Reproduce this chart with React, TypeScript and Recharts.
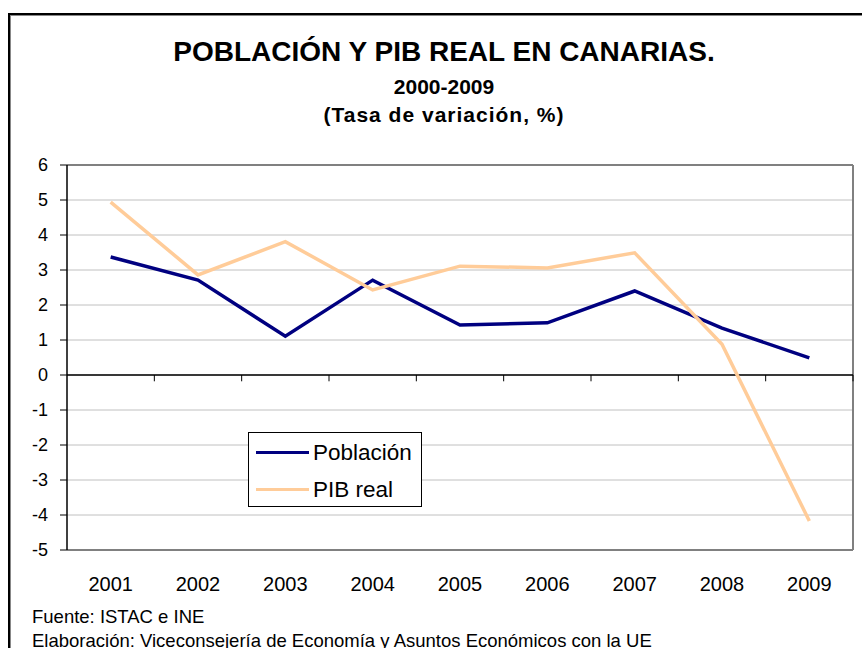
import React from 'react';
import { LineChart, Line, XAxis, YAxis, CartesianGrid, ReferenceLine, Legend } from 'recharts';

const years = ['2001', '2002', '2003', '2004', '2005', '2006', '2007', '2008', '2009'];
const poblacion = [3.37, 2.71, 1.11, 2.71, 1.43, 1.49, 2.4, 1.34, 0.49];
const pibReal = [4.94, 2.86, 3.81, 2.43, 3.11, 3.06, 3.49, 0.88, -4.17];
const seriesNames = ['Población', 'PIB real'];
const yTicks = [-5, -4, -3, -2, -1, 0, 1, 2, 3, 4, 5, 6];
const boundaries = [1, 2, 3, 4, 5, 6, 7, 8, 9];

const data = years.map((year, i) => ({ year, poblacion: poblacion[i], pib: pibReal[i], idx: i + 0.5 }));

const font = 'Arial, "Liberation Sans", sans-serif';

function LegendBox({ payload }: any) {
  const items = [...(payload || [])].sort((a: any, b: any) => seriesNames.indexOf(a.value) - seriesNames.indexOf(b.value));
  return (
    <div style={{ border: '1px solid #000', background: '#fff', width: 174, height: 75, boxSizing: 'border-box', fontFamily: font, fontSize: 22.5, color: '#000', paddingTop: 1 }}>
      {items.map((p: any) => (
        <div key={p.value} style={{ display: 'flex', alignItems: 'center', height: 37 }}>
          <div style={{ width: 53, height: 3, background: p.color, marginLeft: 7, marginRight: 4 }} />
          <span style={{ lineHeight: '26px' }}>{p.value}</span>
        </div>
      ))}
    </div>
  );
}

export default function App() {
  return (
    <div style={{ position: 'absolute', left: 0, top: 0, width: 862, height: 648, overflow: 'hidden', background: '#fff', fontFamily: font }}>
      <div style={{ position: 'absolute', left: 8, top: 13, width: 900, height: 700, borderLeft: '2px solid #000', borderTop: '2px solid #000', boxShadow: '1px 1px 0 #888 inset' }} />
      <div style={{ position: 'absolute', left: 0, width: 888, top: 36, textAlign: 'center', fontSize: 28, fontWeight: 'bold' }}>POBLACIÓN Y PIB REAL EN CANARIAS.</div>
      <div style={{ position: 'absolute', left: 0, width: 888, top: 75, textAlign: 'center', fontSize: 21, fontWeight: 'bold' }}>2000-2009</div>
      <div style={{ position: 'absolute', left: 0, width: 888, top: 103, textAlign: 'center', fontSize: 21, fontWeight: 'bold', letterSpacing: 1 }}>(Tasa de variación, %)</div>
      <div style={{ position: 'absolute', left: 32, top: 606, fontSize: 18.5 }}>Fuente: ISTAC e INE</div>
      <div style={{ position: 'absolute', left: 32, top: 630, fontSize: 18.5, whiteSpace: 'nowrap' }}>Elaboración: Viceconsejería de Economía y Asuntos Económicos con la UE</div>
      <div style={{ position: 'absolute', left: 0, top: 0 }}>
        <LineChart width={862} height={648} data={data} margin={{ top: 165, right: 9, left: 27, bottom: 68 }}>
          <CartesianGrid horizontal vertical={false} stroke="#c0c0c0" />
          <XAxis dataKey="year" xAxisId="cat" scale="band" axisLine={false} tickLine={false} tickMargin={21} height={30}
            tick={{ fill: '#000', fontSize: 20, fontFamily: font }} />
          <XAxis dataKey="idx" xAxisId="num" type="number" domain={[0, 9]} hide />
          <YAxis domain={[-5, 6]} ticks={yTicks} interval={0} width={40} tickSize={7} tickMargin={12}
            axisLine={{ stroke: '#000', strokeWidth: 1.5 }} tickLine={{ stroke: '#000' }}
            tick={{ fill: '#000', fontSize: 18, fontFamily: font }} />
          <ReferenceLine xAxisId="num" y={6} stroke="#808080" strokeWidth={2} />
          <ReferenceLine xAxisId="num" y={-5} stroke="#808080" strokeWidth={2} />
          <ReferenceLine xAxisId="num" x={9} stroke="#808080" strokeWidth={2} />
          <ReferenceLine xAxisId="num" y={0} stroke="#000" strokeWidth={1.5} />
          {boundaries.map((b) => (
            <ReferenceLine key={b} xAxisId="num" segment={[{ x: b, y: 0 }, { x: b, y: -0.18 }]} stroke="#000" />
          ))}
          <Legend layout="vertical" content={<LegendBox />}
            wrapperStyle={{ position: 'absolute', left: 248, top: 432, width: 0, height: 0, overflow: 'visible' }} />
          <Line xAxisId="cat" type="linear" dataKey="poblacion" name="Población" stroke="#000080" strokeWidth={3.5} dot={false} isAnimationActive={false} />
          <Line xAxisId="cat" type="linear" dataKey="pib" name="PIB real" stroke="#ffcc99" strokeWidth={3.5} dot={false} isAnimationActive={false} />
        </LineChart>
      </div>
    </div>
  );
}
